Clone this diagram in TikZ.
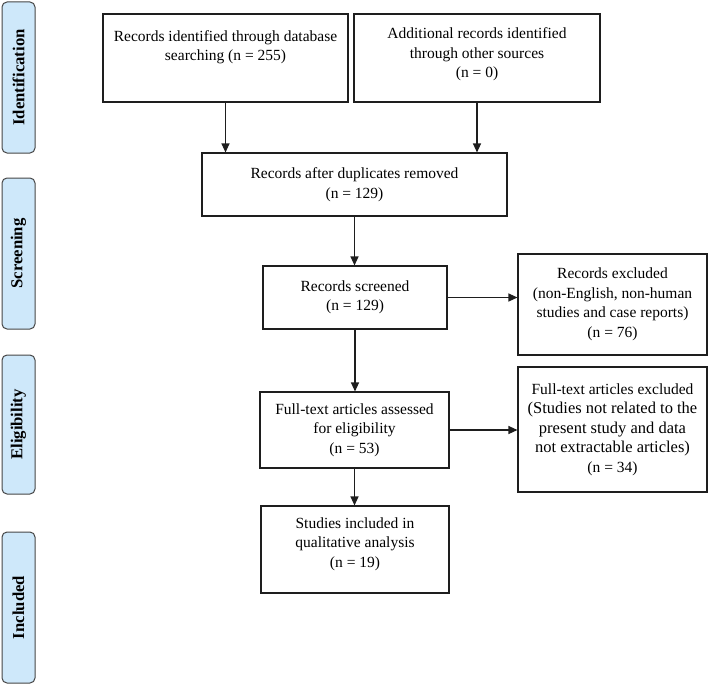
\documentclass[tikz,border=0pt]{standalone}
\usepackage{fontspec}
\setmainfont{Liberation Serif}
\usetikzlibrary{arrows.meta,calc}
\definecolor{barblue}{RGB}{206,232,250}
\definecolor{barline}{RGB}{70,70,70}
\definecolor{boxline}{RGB}{30,30,30}
\begin{document}
\begin{tikzpicture}[x=1pt,y=-1pt,
  box/.style={draw=boxline, line width=1.1pt, inner sep=0pt, align=center,
    font=\fontsize{15.5}{19.5}\selectfont},
  txt/.style={inner sep=0pt, align=center, font=\fontsize{15.5}{19.5}\selectfont},
  bar/.style={draw=barline, fill=barblue, rounded corners=5pt, line width=1pt,
    rotate=90, inner sep=0pt, font=\fontsize{16.7}{18}\selectfont\bfseries},
  arr/.style={draw=boxline, line width=1.2pt, -{Triangle[length=9pt,width=8pt]}}]
\useasboundingbox (0,0) rectangle (709,685);

% side bars
\node[bar, minimum width=151pt, minimum height=33pt] (ident) at (18.5,77.5) {Identification};
\node[bar, minimum width=151pt, minimum height=33pt] (screen) at (18.5,253.5) {Screening};
\node[bar, minimum width=139pt, minimum height=33pt] (elig) at (18.5,424.5) {Eligibility};
\node[bar, minimum width=151pt, minimum height=33pt] (incl) at (18.5,607.5) {Included};

% boxes
\node[box, minimum width=245pt, minimum height=88pt] (a) at (225.5,58) {};
\node[txt] (atext) at (225.5,47) {Records identified through database\\searching (n = 255)};
\node[box, minimum width=246pt, minimum height=88pt] (b) at (477,58) {};
\node[txt] (btext) at (477,54.5) {Additional records identified\\through other sources\\(n = 0)};
\node[box, minimum width=305pt, minimum height=63pt] (c) at (354.5,184.5) {Records after duplicates removed\\(n = 129)};
\node[box, minimum width=184pt, minimum height=63pt] (d) at (355,297.5) {Records screened\\(n = 129)};
\node[box, minimum width=189pt, minimum height=101pt] (e) at (612.5,304.5) {Records excluded\\(non-English, non-human\\studies and case reports)\\(n = 76)};
\node[box, minimum width=189pt, minimum height=76pt] (f) at (354.5,430) {Full-text articles assessed\\for eligibility\\(n = 53)};
\node[box, minimum width=189pt, minimum height=125pt] (g) at (612.5,429.5) {Full-text articles excluded\\{\fontsize{16.5}{19.5}\selectfont (Studies not related to the}\\{\fontsize{16.5}{19.5}\selectfont present study and data}\\{\fontsize{16.5}{19.5}\selectfont not extractable articles)}\\(n = 34)};
\node[box, minimum width=188pt, minimum height=87pt] (h) at (355,549.5) {};
\node[txt] (htext) at (355,544) {Studies included in\\qualitative analysis\\(n = 19)};

% connectors
\draw[arr] (a.south) -- (a.south |- c.north);
\draw[arr] (b.south) -- (b.south |- c.north);
\draw[arr] (c.south) -- (c.south |- d.north);
\draw[arr] (d.east) -- (d.east -| e.west);
\draw[arr] (d.south) -- (d.south |- f.north);
\draw[arr] (f.east) -- (f.east -| g.west);
\draw[arr] (f.south) -- (f.south |- h.north);
\end{tikzpicture}
\end{document}
